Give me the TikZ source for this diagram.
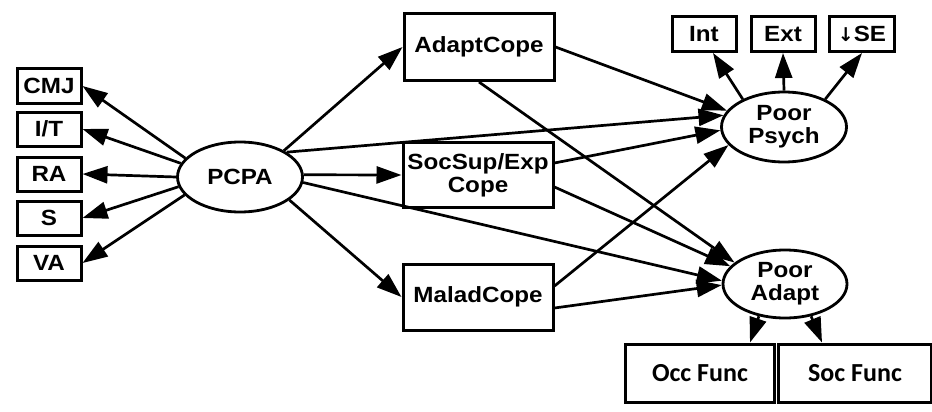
\documentclass[tikz,border=0pt]{standalone}
\usepackage{fontspec}
\usetikzlibrary{shapes.geometric,arrows.meta}
\newfontfamily\labfont[FakeStretch=1.1]{Liberation Sans}
\newfontfamily\calfont{Carlito}
\newfontfamily\symfont{DejaVu Sans}
\begin{document}
\begin{tikzpicture}[x=1pt,y=-1pt,
  lab/.style={font=\labfont\bfseries\fontsize{22}{23}\selectfont, align=center, text=black},
  sbox/.style={lab, draw, line width=3pt, fill=white, inner sep=0pt, minimum width=64pt, minimum height=34pt},
  cbox/.style={lab, draw, line width=3pt, fill=white, inner sep=0pt, minimum width=150pt, minimum height=66pt},
  fbox/.style={font=\calfont\bfseries\fontsize{26}{28}\selectfont, draw, line width=3pt, fill=white, inner sep=0pt, minimum width=150pt, minimum height=58pt},
  lat/.style={lab, ellipse, draw, line width=2.8pt, fill=white, inner sep=0pt, minimum width=125pt, minimum height=70pt},
  arr/.style={line width=2.7pt, -{Triangle[length=25pt,width=17pt]}}
]
\useasboundingbox (0,0) rectangle (932,412);
% nodes
\node[sbox] (CMJ) at (49,86) {CMJ};
\node[sbox] (IT) at (49,129) {I/T};
\node[sbox] (RA) at (49,174) {RA};
\node[sbox] (S) at (49,218) {S};
\node[sbox] (VA) at (49,263) {VA};
\node[lat] (PCPA) at (240,177) {PCPA};
\node[cbox, minimum height=67pt] (Adapt) at (479,47) {AdaptCope};
\node[cbox, minimum height=65pt] (Soc) at (478,175) {SocSup/Exp\\Cope};
\node[cbox] (Malad) at (478,297) {MaladCope};
\node[lat] (PPsych) at (784,127) {Poor\\Psych};
\node[lat, minimum width=124pt, minimum height=68pt] (PAdapt) at (785,284) {Poor\\Adapt};
\node[sbox, minimum height=35pt] (Int) at (704,34) {Int};
\node[sbox, minimum height=35pt] (Ext) at (783,34) {Ext};
\node[sbox, minimum height=35pt, minimum width=65pt] (SE) at (862,34) {{\symfont\fontsize{19}{19}\selectfont ↓}SE};
\node[fbox, minimum width=149pt] (Occ) at (700,373) {Occ Func};
\node[fbox, minimum width=153pt] (SocF) at (855,373) {Soc Func};
% PCPA indicators
\draw[arr] (PCPA.161) -- (CMJ.east);
\draw[arr] (PCPA.167) -- (IT.east);
\draw[arr] (PCPA.180) -- (RA.east);
\draw[arr] (PCPA.189) -- (S.east);
\draw[arr] (PCPA.198) -- (VA.east);
% PCPA to coping
\draw[arr] (PCPA.31) -- (Adapt.west);
\draw[arr] (PCPA.2) -- (Soc.west);
\draw[arr] (PCPA.335) -- (Malad.west);
% PCPA to outcomes
\draw[arr] (PCPA.28) -- (PPsych.169);
\draw[arr] (PCPA.355) -- (PAdapt.177);
% coping to outcomes
\draw[arr] (Adapt.east) -- (PPsych.164);
\draw[arr] (Adapt.south) -- (PAdapt.157);
\draw[arr] ([yshift=12pt]Soc.east) -- (PPsych.183);
\draw[arr] ([yshift=-12pt]Soc.east) -- (PAdapt.162);
\draw[arr] ([yshift=11pt]Malad.east) -- (PPsych.198);
\draw[arr] ([yshift=-11pt]Malad.east) -- (PAdapt.181);
% outcome indicators
\draw[arr] (PPsych.146) -- ([xshift=9pt]Int.south);
\draw[arr] (PPsych.90) -- (Ext.south);
\draw[arr] (PPsych.34) -- (SE.south);
\draw[arr] (PAdapt.231) -- ([xshift=50pt]Occ.north);
\draw[arr] (PAdapt.309) -- ([xshift=-33pt]SocF.north);
\end{tikzpicture}
\end{document}
